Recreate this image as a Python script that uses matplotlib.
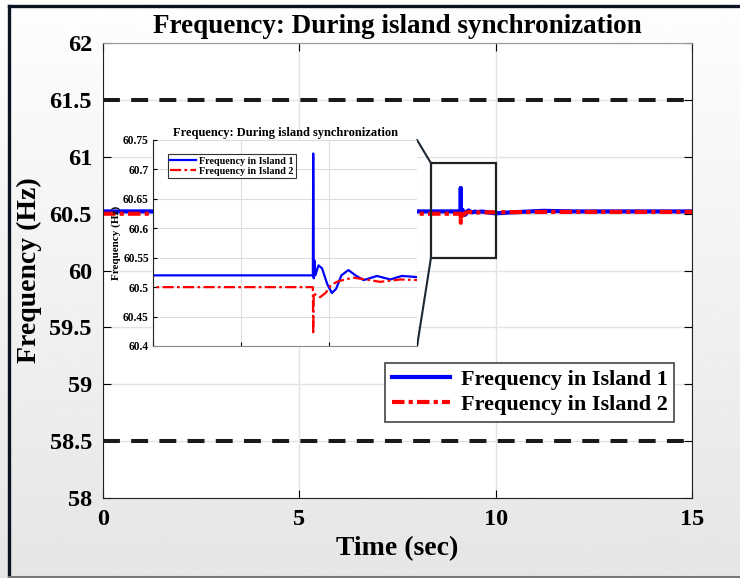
import numpy as np
import matplotlib
matplotlib.use('Agg')
from matplotlib import pyplot as plt
from matplotlib.patches import Rectangle, ConnectionPatch

plt.rcParams['font.family'] = ['Liberation Serif', 'DejaVu Serif']
plt.rcParams['font.weight'] = 'bold'

# data
t_island1 = [0, 9.108, 9.110, 9.113, 9.118, 9.122, 9.14, 9.16, 9.19, 9.216,
             9.24, 9.27, 9.31, 9.35, 9.396, 9.43, 9.472, 9.51, 9.548, 9.58,
             9.614, 9.66, 9.7, 10.0, 10.4, 11.2, 12.0, 15]
f_island1 = [60.52, 60.52, 60.727, 60.515, 60.545, 60.52, 60.537, 60.532,
             60.505, 60.490, 60.497, 60.52, 60.529, 60.52, 60.512, 60.515,
             60.519, 60.516, 60.513, 60.516, 60.519, 60.518, 60.517, 60.503,
             60.512, 60.525, 60.52, 60.52]

t_island2 = [0, 9.108, 9.110, 9.113, 9.13, 9.149, 9.18, 9.21, 9.244, 9.29,
             9.339, 9.41, 9.49, 9.55, 9.605, 9.7, 10.5, 11.5, 15]
f_island2 = [60.5, 60.5, 60.42, 60.49, 60.485, 60.483, 60.49, 60.503, 60.509,
             60.513, 60.516, 60.513, 60.509, 60.511, 60.513, 60.512, 60.514,
             60.516, 60.516]

upper_limit = 61.5
lower_limit = 58.5
zoom_box = (8.35, 60.11, 10.01, 60.945)  # x0, y0, x1, y1

fig = plt.figure(figsize=(7.4, 5.78), dpi=100)

# background gradient and frame
bg = fig.add_axes([0, 0, 1, 1], zorder=-10)
grad = np.linspace(0.90, 0.995, 256).reshape(-1, 1)
bg.imshow(grad, extent=[0, 1, 0, 1], aspect='auto', cmap='gray',
          vmin=0, vmax=1, origin='lower')
bg.plot([0.0115, 0.0115], [0, 0.989], color='#0b1220', lw=2.4)
bg.plot([0.0115, 1], [0.989, 0.989], color='#0b1220', lw=2.4)
bg.plot([0.0115, 1], [0.002, 0.002], color='#777777', lw=1.5)
bg.set_xlim(0, 1)
bg.set_ylim(0, 1)
bg.axis('off')

ax = fig.add_axes([0.1392, 0.1384, 0.796, 0.787])
ax.set_facecolor('white')
ax.plot(t_island1, f_island1, color='#0000ff', lw=3, label='Frequency in Island 1')
ax.plot(t_island2, f_island2, color='#ff0000', lw=3,
        linestyle=(0, (3, 1, 1, 1)), label='Frequency in Island 2')
ax.axhline(upper_limit, color='#1a1a1a', lw=2.9, dashes=(4.2, 2.8))
ax.axhline(lower_limit, color='#1a1a1a', lw=2.9, dashes=(4.2, 2.8))
ax.add_patch(Rectangle((zoom_box[0], zoom_box[1]), zoom_box[2] - zoom_box[0],
                       zoom_box[3] - zoom_box[1], fill=False,
                       edgecolor='#222222', lw=1.6, zorder=5))

ax.set_xlim(0, 15)
ax.set_ylim(58, 62)
ax.set_xticks([0, 5, 10, 15])
ax.set_yticks(np.arange(58, 62.01, 0.5))
ax.set_yticklabels(['58', '58.5', '59', '59.5', '60', '60.5', '61', '61.5', '62'])
ax.tick_params(direction='in', length=6, labelsize=17.5, top=True, right=True,
               pad=8)
ax.grid(True, color='#e3e3e3', lw=1)
ax.set_axisbelow(True)
for s in ['left', 'bottom', 'right']:
    ax.spines[s].set_color('#222222')
ax.spines['top'].set_color('#999999')
ax.set_title('Frequency: During island synchronization', fontsize=19.5,
             fontweight='bold', pad=7)
ax.set_xlabel('Time (sec)', fontsize=20, fontweight='bold', labelpad=4)
ax.set_ylabel('Frequency (Hz)', fontsize=20, fontweight='bold', labelpad=5)
leg = ax.legend(loc='upper right', bbox_to_anchor=(0.97, 0.297), fontsize=16,
                fancybox=False, framealpha=1, edgecolor='#444444',
                handlelength=2.6, borderpad=0.3, labelspacing=0.2,
                handletextpad=0.5, borderaxespad=0)
leg.get_frame().set_linewidth(1.2)

# inset
ins = fig.add_axes([0.2068, 0.4014, 0.3568, 0.3564], zorder=3)
ins.set_facecolor('white')
ins.plot(t_island1, f_island1, color='#0000ff', lw=1.6, label='Frequency in Island 1')
ins.plot(t_island2, f_island2, color='#ff0000', lw=1.6,
         linestyle=(0, (5, 1.5, 1.2, 1.5)), label='Frequency in Island 2')
ins.set_xlim(8.2, 9.7)
ins.set_ylim(60.4, 60.75)
ins.set_xticks([8.2, 8.7, 9.2, 9.7])
ins.set_xticklabels([])
ins.set_yticks(np.arange(60.4, 60.751, 0.05))
ins.set_yticklabels(['60.4', '60.45', '60.5', '60.55', '60.6', '60.65', '60.7', '60.75'])
ins.tick_params(direction='in', length=3, labelsize=8.3, pad=3)
ins.grid(True, color='#dddddd', lw=0.8)
ins.set_axisbelow(True)
ins.spines['top'].set_visible(False)
ins.spines['right'].set_visible(False)
ins.spines['bottom'].set_color('#888888')
ins.spines['left'].set_color('#222222')
ins.set_title('Frequency: During island synchronization', fontsize=9,
              fontweight='bold', pad=3)
ins.set_ylabel('Frequency (Hz)', fontsize=8, fontweight='bold', labelpad=1.5)
ileg = ins.legend(loc='upper left', bbox_to_anchor=(0.055, 0.93), fontsize=7.3,
                  fancybox=False, framealpha=1, edgecolor='#333333',
                  handlelength=2.6, borderpad=0.2, labelspacing=0.1,
                  handletextpad=0.3, borderaxespad=0)
ileg.get_frame().set_linewidth(0.8)

# connector lines from inset to zoom box
for yi, yd in [(1, zoom_box[3]), (0, zoom_box[1])]:
    con = ConnectionPatch(xyA=(1, yi), coordsA=ins.transAxes,
                          xyB=(zoom_box[0], yd), coordsB=ax.transData,
                          color='#1c2833', lw=1.5)
    fig.add_artist(con)

fig.savefig('out.png', dpi=100)
